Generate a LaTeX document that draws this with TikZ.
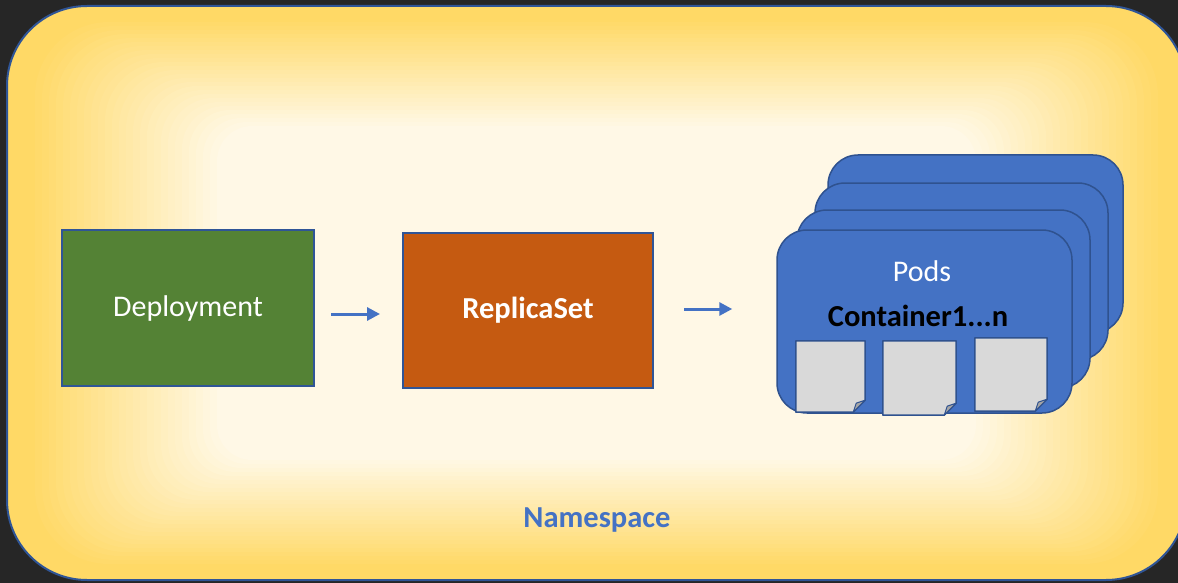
\documentclass[tikz,border=0pt]{standalone}
\usepackage{fontspec}
\setmainfont{Carlito}
\usetikzlibrary{arrows.meta,calc}
\definecolor{darkbg}{HTML}{262626}
\definecolor{nsyellow}{HTML}{FFD966}
\definecolor{nscream}{HTML}{FFF8E6}
\definecolor{edgeblue}{HTML}{2F5597}
\definecolor{depgreen}{HTML}{548235}
\definecolor{reporange}{HTML}{C55A11}
\definecolor{podblue}{HTML}{4472C4}
\definecolor{podedge}{HTML}{2F528F}
\definecolor{docgrey}{HTML}{D9D9D9}
\definecolor{foldgrey}{HTML}{A6A6A6}
\begin{document}
\begin{tikzpicture}[x=1pt,y=-1pt,
  bigtext/.style={font=\fontsize{30}{36}\selectfont},
  bigbold/.style={font=\fontsize{30.5}{36}\selectfont\bfseries},
  stagebox/.style={draw=edgeblue,line width=2pt,inner sep=0pt,text=white},
  podcard/.style={draw=podedge,fill=podblue,line width=1.5pt,rounded corners=30pt,inner sep=0pt},
  docnode/.style={inner sep=0pt},
  docfill/.style={fill=docgrey,draw=podedge,line width=1.5pt,line join=round},
  flow/.style={draw=podblue,line width=3pt,-{Triangle[length=13pt,width=13pt]}},
]
\useasboundingbox (0,0) rectangle (1178,583);
\begin{scope}
\clip (0,0) rectangle (1178,583);
\fill[darkbg] (0,0) rectangle (1178,583);
% namespace gradient (rectangular path gradient)
\foreach \k in {0,...,40}{
  \pgfmathsetmacro\ix{\k*7}
  \pgfmathsetmacro\iy{\k*4}
  \pgfmathsetmacro\p{100*min(1,max(0,1-(\k-3)/27))}
  \pgfmathsetlengthmacro\r{max(80-\k*1.5,20)}
  \fill[nsyellow!\p!nscream, rounded corners=\r] (7+\ix,6+\iy) rectangle (1186-\ix,580-\iy);
}
\draw[edgeblue,line width=2pt,rounded corners=80pt] (7,6) rectangle (1186,580);
\end{scope}

% stages
\node[stagebox,fill=depgreen,minimum width=252pt,minimum height=156pt,bigtext] (dep) at (188,308) {Deployment};
\node[stagebox,fill=reporange,minimum width=250pt,minimum height=155pt,bigbold] (rep) at (528,310.5) {ReplicaSet};

% pods stack
\node[podcard,minimum width=295pt,minimum height=178pt] (card4) at (975.5,244) {};
\node[podcard,minimum width=293pt,minimum height=177pt] (card3) at (961.5,271.5) {};
\node[podcard,minimum width=293pt,minimum height=178pt] (card2) at (943.5,299) {};
\node[podcard,minimum width=295pt,minimum height=183pt] (card1) at (924.5,321.5) {};
\node[bigtext,text=white] (podlabel) at (922,271) {Pods};
\node[bigbold,text=black] (ctrlabel) at (918,316) {Container1...n};

% containers
\node[docnode,minimum width=69pt,minimum height=71pt] (d1) at (830.5,376.5) {};
\node[docnode,minimum width=73pt,minimum height=74pt] (d2) at (919.5,378) {};
\node[docnode,minimum width=72pt,minimum height=73pt] (d3) at (1011,374.5) {};
\foreach \d in {d1,d2,d3}{
  \path[docfill] (\d.north west) -- (\d.north east) -- ($(\d.south east)+(0,-12)$)
    -- ($(\d.south east)+(-12,0)$) -- (\d.south west) -- cycle;
  \path[fill=foldgrey,draw=podedge,line width=1pt,line join=round] ($(\d.south east)+(0,-12)$)
    -- ($(\d.south east)+(-12,0)$) -- ($(\d.south east)+(-9,-9)$) -- cycle;
}

% arrows
\draw[flow,shorten <=16pt,shorten >=22pt] ([yshift=-6pt]dep.east) -- ([yshift=-6pt]dep.east -| rep.west);
\draw[flow,shorten <=30pt,shorten >=44pt] ([yshift=1.5pt]rep.east) -- ([yshift=1.5pt]rep.east -| card1.west);

% namespace label
\node[bigbold,text=podblue] (nslabel) at (597,520) {Namespace};
\end{tikzpicture}
\end{document}
